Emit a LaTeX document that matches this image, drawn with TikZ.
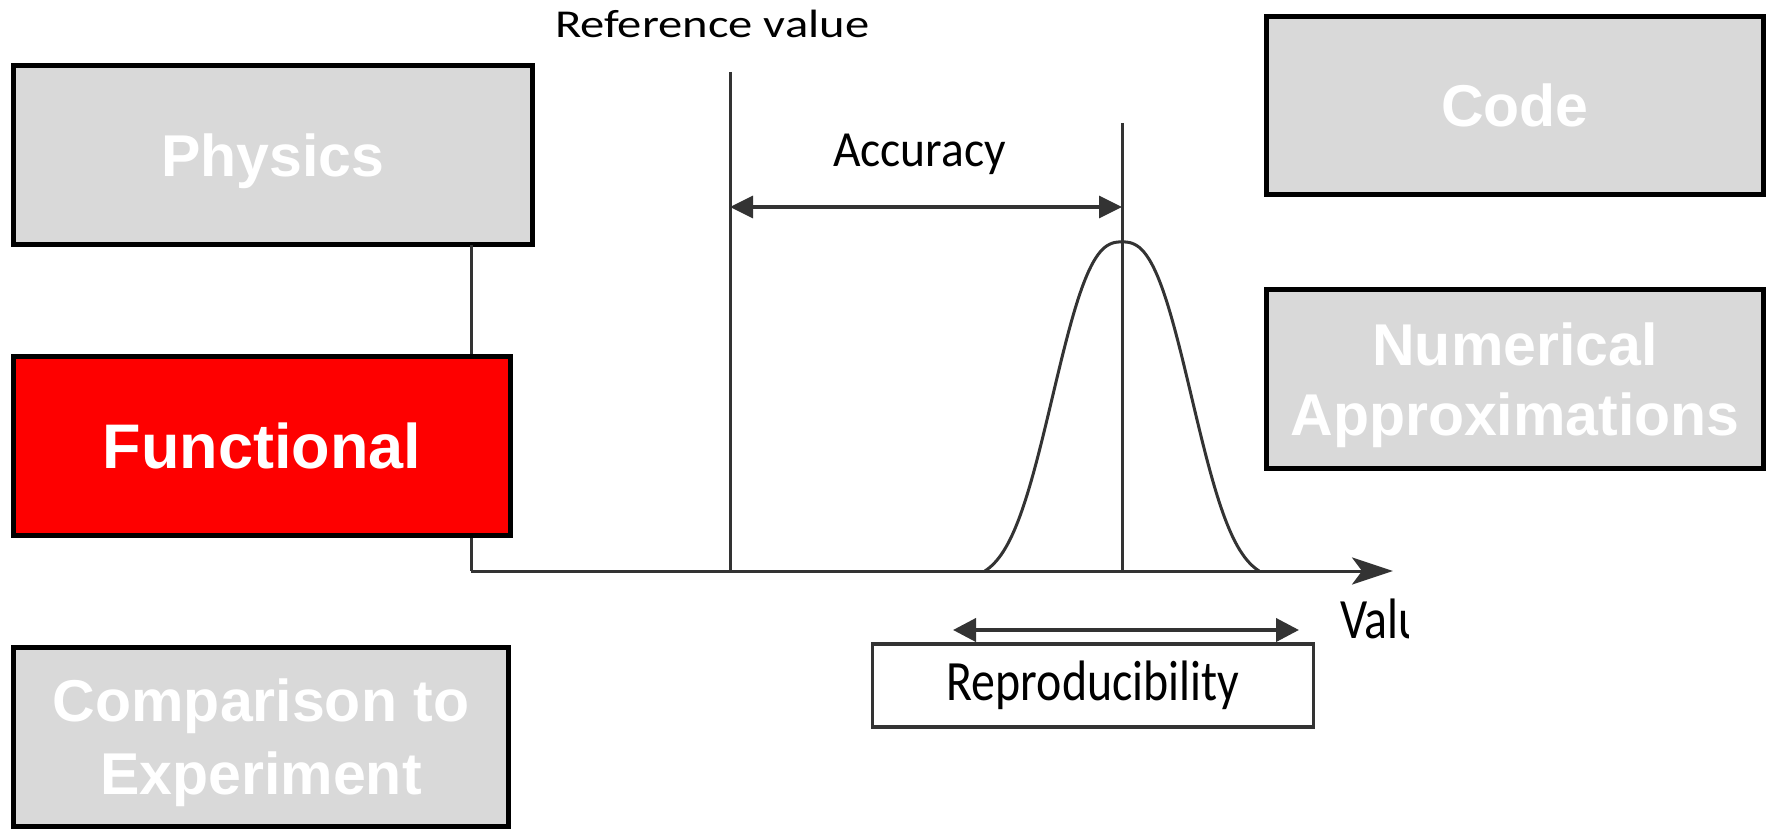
\documentclass[tikz,border=0pt]{standalone}
\usepackage{fontspec}
\usepackage{graphicx}
\usetikzlibrary{arrows.meta}
\newfontfamily\boxfont{Liberation Sans}
\newfontfamily\chartfont{Carlito}
\definecolor{boxgray}{HTML}{D9D9D9}
\definecolor{boxred}{HTML}{FE0000}
\definecolor{chartgray}{HTML}{333333}
\tikzset{
  labelbox/.style={draw=black, line width=5pt, inner sep=0pt, outer sep=0pt,
    minimum height=179pt, text=white, align=center, text depth=0pt,
    font=\boxfont\bfseries\fontsize{59}{70}\selectfont},
  graybox/.style={labelbox, fill=boxgray},
  redbox/.style={labelbox, fill=boxred, font=\boxfont\bfseries\fontsize{63}{70}\selectfont},
  chartline/.style={draw=chartgray, line width=3pt},
  charttext/.style={inner sep=0pt, outer sep=0pt, text=black},
}
\begin{document}
\begin{tikzpicture}[x=1pt,y=-1pt]
\useasboundingbox (0,0) rectangle (1772,829);

% chart coordinates
\coordinate (origin) at (471,571);
\coordinate (axisend) at (1393,571);
\coordinate (reftop) at (730,72);
\coordinate (refbase) at (730,571);
\coordinate (peaktop) at (1122,123);
\coordinate (peakbase) at (1122,571);
\coordinate (accL) at (730,207);
\coordinate (accR) at (1122,207);
\coordinate (repL) at (953,630);
\coordinate (repR) at (1299,630);

% boxes (nodes)
\node[graybox, minimum width=519pt] (physics) at (273,155) {Physics};

% y-axis from Physics box and x-axis
\draw[chartline] (physics.south -| origin) -- (origin);
\draw[chartline, -{Stealth[length=41pt,width=27pt,inset=10pt]}] (origin) -- (axisend);

\node[redbox, minimum width=497pt] (functional) at (262,446) {Functional};
\node[graybox, minimum width=495pt, font=\boxfont\bfseries\fontsize{59}{73}\selectfont]
  (comparison) at (261,736.5) {Comparison to\\Experiment};
\node[graybox, minimum width=497pt, minimum height=178pt] (code) at (1515,105.5) {Code};
\node[graybox, minimum width=497pt] (numerical) at (1515,379) {Numerical\\Approximations};

% reference and peak lines
\draw[chartline] (reftop) -- (refbase);
\draw[chartline] (peaktop) -- (peakbase);

% gaussian
\draw[chartline] plot[domain=-137:137, samples=120, smooth]
  ({1122+\x},{571-338.5*(exp(-(abs(\x)/84)^2.6)-0.028)});

% accuracy arrow
\draw[draw=chartgray, line width=3.5pt, {Triangle[length=23pt,width=22pt]}-{Triangle[length=23pt,width=22pt]}] (accL) -- (accR);

% reproducibility
\node[draw=chartgray, line width=3.5pt, minimum width=441pt, minimum height=83pt,
  inner sep=0pt, outer sep=0pt, font=\chartfont\fontsize{57}{60}\selectfont]
  (repro) at (1093,685.5) {\scalebox{0.84}[1]{Reproducibility}};
\draw[draw=chartgray, line width=4pt, {Triangle[length=23pt,width=23pt]}-{Triangle[length=23pt,width=23pt]}] (repL) -- (repR);

% texts
\node[charttext, anchor=base west, font=\chartfont\fontsize{39.5}{42}\selectfont]
  (reflabel) at (555,38) {\scalebox{1.23}[1]{Reference value}};
\node[charttext, anchor=base west, font=\chartfont\fontsize{50.6}{54}\selectfont]
  (acclabel) at (833,167) {\scalebox{0.94}[1]{Accuracy}};
\begin{scope}
  \clip (1320,580) rectangle (1408,660);
  \node[charttext, anchor=base west, font=\chartfont\fontsize{57}{60}\selectfont]
    (vallabel) at (1340,638) {\scalebox{0.84}[1]{Value}};
\end{scope}
\end{tikzpicture}
\end{document}
